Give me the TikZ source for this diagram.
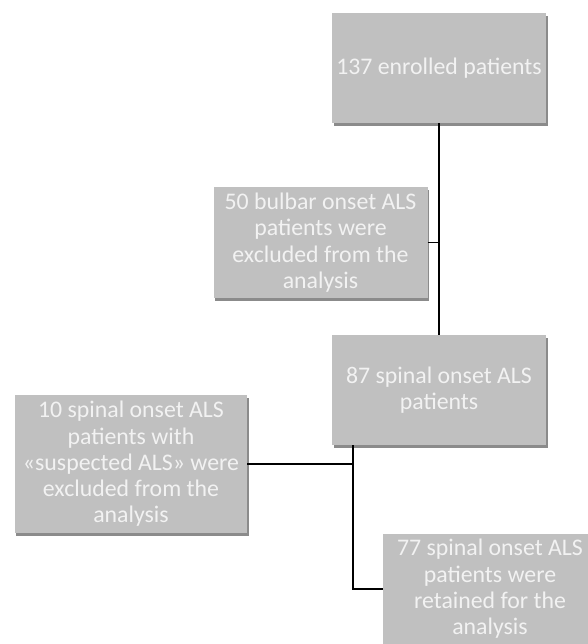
\documentclass[tikz,border=0pt]{standalone}
\usepackage{fontspec}
\setmainfont{Carlito}
\usetikzlibrary{shadows}
\definecolor{boxgray}{HTML}{C0C0C0}
\definecolor{boxtext}{HTML}{F2F2F2}
\definecolor{shadowgray}{HTML}{5A5A5A}
\tikzset{
  flowbox/.style={draw=none, fill=boxgray, text=boxtext, align=center,
    minimum width=214bp, minimum height=110bp, inner sep=0pt,
    font=\fontsize{23.9}{26.4}\selectfont,
    drop shadow={shadow xshift=1.5bp, shadow yshift=-3bp, fill=shadowgray, opacity=0.7}},
  tallbox/.style={flowbox, minimum width=232bp, minimum height=138bp},
  link/.style={draw=black, line width=1.8bp}
}
\begin{document}
\begin{tikzpicture}[x=1bp,y=-1bp]
\useasboundingbox (0,0) rectangle (588,644);
\clip (0,0) rectangle (588,644);
\node[flowbox] (n137) at (439,68) {137 enrolled patients};
\node[flowbox] (n50) at (320.5,242.5) {50 bulbar onset ALS\\patients were\\excluded from the\\analysis};
\node[flowbox] (n87) at (439,390) {87 spinal onset ALS\\patients};
\node[tallbox] (n10) at (131,464) {10 spinal onset ALS\\patients with\\«suspected ALS» were\\excluded from the\\analysis};
\node[flowbox, minimum height=111bp] (n77) at (490,589) {77 spinal onset ALS\\patients were\\retained for the\\analysis};
\coordinate (j) at ([xshift=21bp]n87.south west);
\draw[link] (n137.south) -- (n87.north);
\draw[link] (n50.east) -- (n50.east -| n137.south);
\draw[link] (j) |- (n77.west);
\draw[link] (n10.east) -- (n10.east -| j);
\end{tikzpicture}
\end{document}
